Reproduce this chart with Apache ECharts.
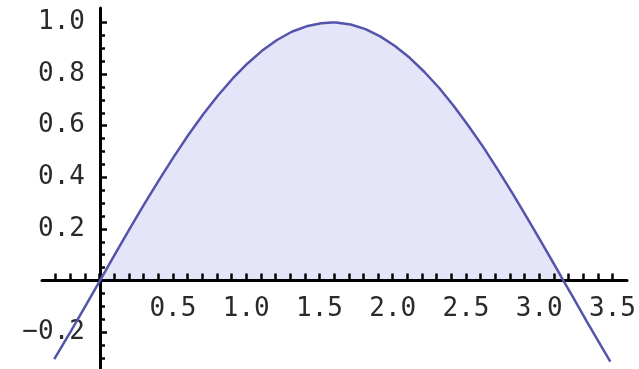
<!DOCTYPE html>
<html>
<head>
<meta charset="utf-8">
<title>sin(x)</title>
<script src="https://cdn.jsdelivr.net/npm/echarts@6/dist/echarts.min.js"></script>
<style>
  html, body { margin: 0; padding: 0; background: #fff; }
  #chart { width: 639px; height: 369px; }
</style>
</head>
<body>
<div id="chart"></div>
<script>
// Sampled curve: x positions and the plotted values y = sin(x)
const curveX = [-0.31, -0.2, -0.1, 0, 0.1, 0.2, 0.3, 0.4, 0.5, 0.6, 0.7, 0.8, 0.9, 1.0,
  1.1, 1.2, 1.3, 1.4, 1.5, 1.5708, 1.6, 1.7, 1.8, 1.9, 2.0, 2.1, 2.2, 2.3, 2.4, 2.5,
  2.6, 2.7, 2.8, 2.9, 3.0, 3.1, 3.1416, 3.2, 3.3, 3.4, 3.46];
const curveY = [-0.305, -0.199, -0.100, 0, 0.100, 0.199, 0.296, 0.389, 0.479, 0.565, 0.644, 0.717, 0.783, 0.841,
  0.891, 0.932, 0.964, 0.985, 0.997, 1.000, 1.000, 0.992, 0.974, 0.946, 0.909, 0.863, 0.808, 0.746, 0.675, 0.598,
  0.516, 0.427, 0.335, 0.239, 0.141, 0.042, 0, -0.058, -0.158, -0.256, -0.314];

// Shaded region between the curve and the x axis
const fillFrom = 0;
const fillTo = 3.1416;

// Axis ranges and tick labels
const xRange = [-0.393, 3.573];
const yRange = [-0.339, 1.056];
const xTickRange = [-0.3, 3.5];
const yMinorRange = [-0.3, 1.0];
const yMajorRange = [-0.2, 1.0];
const xTickLabels = ['0.5', '1.0', '1.5', '2.0', '2.5', '3.0', '3.5'];
const yTickLabels = ['\u22120.2', '0.2', '0.4', '0.6', '0.8', '1.0'];

const curve = curveX.map((x, i) => [x, curveY[i]]);
const area = curve.filter(p => p[0] >= fillFrom && p[0] <= fillTo);

// Pixel layout of the plot frame
const PX = { left: 42, top: 8, width: 585, height: 360 };
const sx = PX.width / (xRange[1] - xRange[0]);
const sy = PX.height / (yRange[1] - yRange[0]);
const x0 = PX.left + (0 - xRange[0]) * sx;
const y0 = PX.top + (yRange[1] - 0) * sy;

const labelFont = { fontFamily: 'DejaVu Sans Mono', fontSize: 26, color: '#2a2a2a' };

function findLabel(list, v) {
  for (const s of list) {
    const n = parseFloat(s.replace('\u2212', '-'));
    if (Math.abs(n - v) < 1e-6) return s;
  }
  return '';
}

const chart = echarts.init(document.getElementById('chart'), null, { renderer: 'canvas' });

chart.setOption({
  animation: false,
  backgroundColor: '#fff',
  grid: [
    // plot area
    { left: PX.left, top: PX.top, width: PX.width, height: PX.height },
    // x ticks/labels
    { left: x0 + xTickRange[0] * sx, width: (xTickRange[1] - xTickRange[0]) * sx, top: 100, height: y0 - 100 },
    // y minor ticks
    { left: x0, width: 100, top: y0 - yMinorRange[1] * sy, height: (yMinorRange[1] - yMinorRange[0]) * sy },
    // y major ticks + labels
    { left: x0, width: 100, top: y0 - yMajorRange[1] * sy, height: (yMajorRange[1] - yMajorRange[0]) * sy }
  ],
  xAxis: [
    {
      gridIndex: 0, type: 'value', min: xRange[0], max: xRange[1], z: 5,
      axisLine: { onZero: true, lineStyle: { color: '#000', width: 3 } },
      axisTick: { show: false }, axisLabel: { show: false }, splitLine: { show: false }
    },
    {
      gridIndex: 1, type: 'value', min: xTickRange[0], max: xTickRange[1], interval: 0.1, z: 5,
      axisLine: { show: false },
      axisTick: { show: true, inside: true, length: 7, lineStyle: { color: '#000', width: 2.5 } },
      axisLabel: {
        show: true, margin: 16, showMinLabel: true, showMaxLabel: true, hideOverlap: false,
        ...labelFont,
        formatter: v => findLabel(xTickLabels, v)
      },
      splitLine: { show: false }
    },
    { gridIndex: 2, type: 'value', show: false, min: 0, max: 1 },
    { gridIndex: 3, type: 'value', show: false, min: 0, max: 1 }
  ],
  yAxis: [
    {
      gridIndex: 0, type: 'value', min: yRange[0], max: yRange[1], z: 5,
      axisLine: { onZero: true, lineStyle: { color: '#000', width: 3 } },
      axisTick: { show: false }, axisLabel: { show: false }, splitLine: { show: false }
    },
    { gridIndex: 1, type: 'value', show: false, min: 0, max: 1 },
    {
      gridIndex: 2, type: 'value', min: yMinorRange[0], max: yMinorRange[1], interval: 0.05, z: 5,
      axisLine: { show: false },
      axisTick: { show: true, inside: true, length: 5, lineStyle: { color: '#000', width: 2.5 } },
      axisLabel: { show: false }, splitLine: { show: false }
    },
    {
      gridIndex: 3, type: 'value', min: yMajorRange[0], max: yMajorRange[1], interval: 0.2, z: 5,
      axisLine: { show: false },
      axisTick: { show: true, inside: true, length: 7, lineStyle: { color: '#000', width: 2.5 } },
      axisLabel: {
        show: true, margin: 15, showMinLabel: true, showMaxLabel: true, hideOverlap: false,
        ...labelFont,
        formatter: v => findLabel(yTickLabels, v)
      },
      splitLine: { show: false }
    }
  ],
  series: [
    {
      name: 'fill', type: 'line', xAxisIndex: 0, yAxisIndex: 0, z: 1,
      data: area, symbol: 'none', silent: true,
      lineStyle: { width: 0, opacity: 0 },
      areaStyle: { color: '#e5e5fa', opacity: 1, origin: 0 }
    },
    {
      name: 'sin', type: 'line', xAxisIndex: 0, yAxisIndex: 0, z: 6,
      data: curve, symbol: 'none', smooth: false,
      lineStyle: { color: '#5454aa', width: 2.5 }
    }
  ]
});
</script>
</body>
</html>
